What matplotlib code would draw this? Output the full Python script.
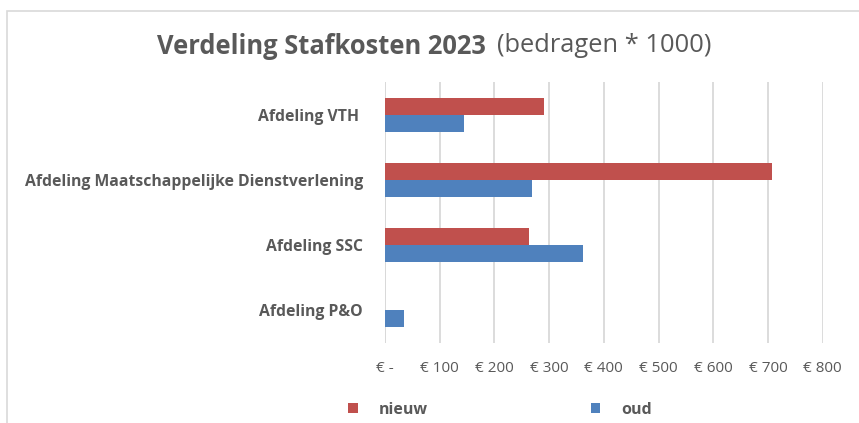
import matplotlib
matplotlib.use("Agg")
import matplotlib.pyplot as plt
import numpy as np
from matplotlib.patches import Rectangle

categories = ["Afdeling VTH ", "Afdeling Maatschappelijke Dienstverlening", "Afdeling SSC", "Afdeling P&O"]
nieuw = [290, 707, 264, 0]
oud = [145, 269, 361, 35]
series_names = ["nieuw", "oud"]
xticks = [0, 100, 200, 300, 400, 500, 600, 700, 800]
xtick_labels = ["€ -", "€ 100", "€ 200", "€ 300", "€ 400", "€ 500", "€ 600", "€ 700", "€ 800"]

RED = "#C0504D"
BLUE = "#4F81BD"
GREY = "#595959"
GRID = "#D9D9D9"

plt.rcParams['font.family'] = ['Open Sans', 'DejaVu Sans']

fig = plt.figure(figsize=(8.59, 4.23), dpi=100)
W, H = 859, 423
ax = fig.add_axes([385 / W, 1 - 342.5 / H, (822.7 - 385) / W, (342.5 - 82.5) / H])

# chart border
fig.patches.append(Rectangle((7 / W, -0.1), 1.2, 1 - 11 / H + 0.1, transform=fig.transFigure,
                             fill=False, edgecolor=GRID, linewidth=1.2))

y = np.arange(len(categories))
h = 0.26
ax.barh(y - h / 2, nieuw, height=h, color=RED, label=series_names[0], zorder=3)
ax.barh(y + h / 2, oud, height=h, color=BLUE, label=series_names[1], zorder=3)

ax.set_ylim(len(categories) - 0.5, -0.5)
ax.set_xlim(0, 800)
ax.set_xticks(xticks)
ax.set_xticklabels(xtick_labels, color=GREY, fontsize=11)
ax.set_yticks(y)
ax.set_yticklabels(categories, color=GREY, fontsize=11.3, fontweight='bold')
ax.tick_params(axis='both', length=0)
ax.tick_params(axis='x', pad=13)
ax.tick_params(axis='y', pad=16)
ax.grid(axis='x', color=GRID, linewidth=1.3, zorder=0)
for s in ax.spines.values():
    s.set_visible(False)
ax.axvline(0, color=GRID, linewidth=1.3, zorder=1)

# title
fig.text(486 / W, 1 - 46 / H, "Verdeling Stafkosten 2023", ha='right', va='center',
         fontsize=18.4, fontweight='bold', color=GREY)
fig.text(497 / W, 1 - 46 / H, "(bedragen * 1000)", ha='left', va='center',
         fontsize=18.4, color=GREY)

leg = fig.legend(loc='center', bbox_to_anchor=(500 / W, 1 - 410 / H), ncol=2, frameon=False,
                 handlelength=0.6, handleheight=0.6, handletextpad=1.3, columnspacing=10.2,
                 prop={'size': 11.5, 'weight': 'bold'})
for t in leg.get_texts():
    t.set_color(GREY)

fig.savefig("out.png", dpi=100)
